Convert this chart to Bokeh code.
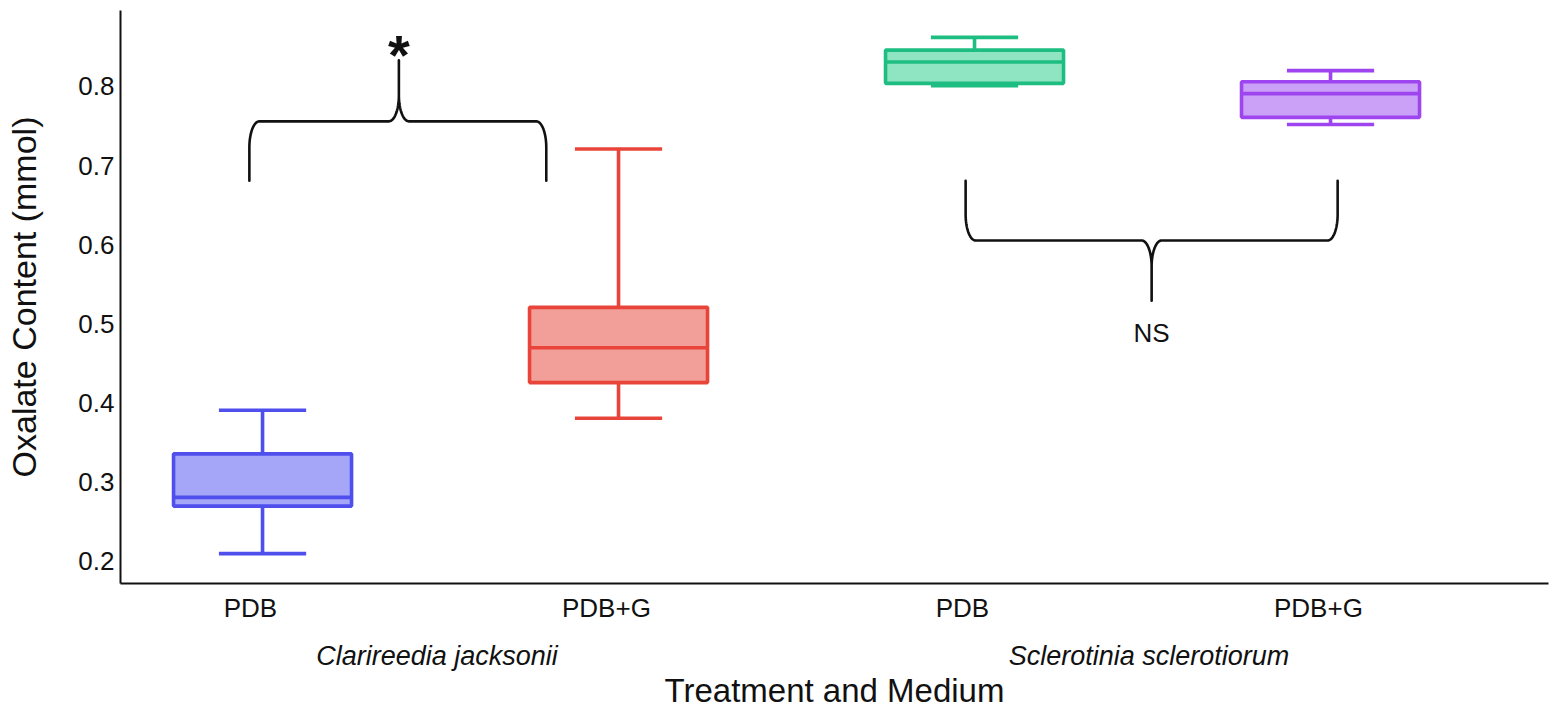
import numpy as np
from bokeh.plotting import figure
from bokeh.models import ColumnDataSource, FixedTicker, LinearAxis, Range1d
from bokeh.core.properties import value
from bokeh.embed import file_html
from bokeh.resources import INLINE

# ---------------- data ----------------
species = ["Clarireedia jacksonii", "Clarireedia jacksonii",
           "Sclerotinia sclerotiorum", "Sclerotinia sclerotiorum"]
medium = ["PDB", "PDB+G", "PDB", "PDB+G"]
whisker_low = [0.210, 0.381, 0.801, 0.752]
q1 = [0.270, 0.426, 0.804, 0.761]
median = [0.281, 0.470, 0.831, 0.791]
q3 = [0.336, 0.521, 0.846, 0.806]
whisker_high = [0.391, 0.721, 0.862, 0.820]
line_colors = ["#4F4FEE", "#E8443A", "#1EBE82", "#9E45EF"]
fill_colors = ["#A6A6F9", "#F29F99", "#8FE4C2", "#CBA1F8"]
y_ticks = [0.2, 0.3, 0.4, 0.5, 0.6, 0.7, 0.8]
group_names = ["Clarireedia jacksonii", "Sclerotinia sclerotiorum"]
x_title = "Treatment and Medium"
y_title = "Oxalate Content (mmol)"

# significance annotations: (left x, right x, mid x, end y, flat y, tip y)
brace_left = (0.963, 1.797, 1.383, 0.681, 0.756, 0.833)
brace_right = (2.975, 4.020, 3.4975, 0.681, 0.6055, 0.5295)
star_pos = (1.383, 0.841)
ns_pos = (3.497, 0.489)

FONT = "Liberation Sans"
TXT = "#111111"

X0, X1 = 0.601, 4.6123
Y0, Y1 = 0.1722, 0.896
FRAME_W, FRAME_H = 1428, 573

xs = [float(i + 1) for i in range(len(medium))]
box_w = 0.5
cap_w = 0.245
label_shift = -0.034

src = ColumnDataSource(dict(
    x=xs, lo=whisker_low, q1=q1, med=median, q3=q3, hi=whisker_high,
    lc=line_colors, fc=fill_colors,
    bl=[x - box_w / 2 for x in xs], br=[x + box_w / 2 for x in xs],
    cl=[x - cap_w / 2 for x in xs], cr=[x + cap_w / 2 for x in xs],
))

p = figure(width=1551, height=714,
           x_range=Range1d(X0, X1), y_range=Range1d(Y0, Y1),
           output_backend="svg", toolbar_location=None,
           min_border_left=120, min_border_right=3,
           min_border_top=10, min_border_bottom=131)
p.outline_line_color = None
p.grid.visible = False
p.background_fill_color = "white"
p.border_fill_color = "white"

LW = 3.6
p.segment(x0="x", y0="q3", x1="x", y1="hi", line_color="lc", line_width=LW, source=src)
p.segment(x0="x", y0="lo", x1="x", y1="q1", line_color="lc", line_width=LW, source=src)
p.segment(x0="cl", y0="hi", x1="cr", y1="hi", line_color="lc", line_width=LW, source=src)
p.segment(x0="cl", y0="lo", x1="cr", y1="lo", line_color="lc", line_width=LW, source=src)
p.vbar(x="x", width=box_w, bottom="q1", top="q3", fill_color="fc",
       line_color="lc", line_width=LW, source=src)
p.segment(x0="bl", y0="med", x1="br", y1="med", line_color="lc", line_width=LW, source=src)

# braces
px_x = FRAME_W / (X1 - X0)
px_y = FRAME_H / (Y1 - Y0)
rx = 10 / px_x
ry = 26 / px_y


def brace(x0, x1, xm, y_end, y_flat, y_tip, n=24):
    s = 1 if y_tip > y_flat else -1
    t = np.linspace(0, np.pi / 2, n)
    bx, by = [x0], [y_end]
    bx += list(x0 + rx - rx * np.cos(t)); by += list(y_flat - s * ry + s * ry * np.sin(t))
    u = t[::-1]
    bx += list(xm - rx + rx * np.cos(u)); by += list(y_flat + s * ry - s * ry * np.sin(u))
    bx += [xm, xm]; by += [y_tip, y_flat + s * ry]
    bx += list(xm + rx - rx * np.cos(t)); by += list(y_flat + s * ry - s * ry * np.sin(t))
    bx += list(x1 - rx + rx * np.sin(t)); by += list(y_flat - s * ry + s * ry * np.cos(t))
    bx += [x1]; by += [y_end]
    return bx, by


for b in (brace_left, brace_right):
    bx, by = brace(*b)
    p.line(bx, by, line_color=TXT, line_width=2.6, line_join="round", line_cap="round")

p.text(x=[star_pos[0]], y=[star_pos[1]], text=["*"], text_font=value(FONT),
       text_font_size="56px", text_font_style="bold", text_align="center",
       text_baseline="alphabetic", text_color=TXT)
p.text(x=[ns_pos[0]], y=[ns_pos[1]], text=["NS"], text_font=value(FONT),
       text_font_size="26px", text_align="center", text_baseline="alphabetic",
       text_color=TXT)

# y axis
ya = p.yaxis[0]
ya.ticker = FixedTicker(ticks=y_ticks)
ya.major_label_overrides = {v: f"{v:.1f}" for v in y_ticks}
ya.axis_label = y_title
ya.axis_label_text_font = FONT
ya.axis_label_text_font_size = "34px"
ya.axis_label_text_font_style = "normal"
ya.axis_label_text_color = TXT
ya.axis_label_standoff = 32
ya.major_label_text_font = FONT
ya.major_label_text_font_size = "26px"
ya.major_label_text_color = TXT
ya.major_label_standoff = 6
ya.axis_line_width = 2
ya.axis_line_color = TXT
ya.major_tick_out = 0
ya.major_tick_in = 0
ya.minor_tick_out = 0
ya.minor_tick_in = 0

# x axis (media)
xa = p.xaxis[0]
tick_pos = [x + label_shift for x in xs]
xa.ticker = FixedTicker(ticks=tick_pos)
xa.major_label_overrides = {t: m for t, m in zip(tick_pos, medium)}
xa.major_label_text_font = FONT
xa.major_label_text_font_size = "26px"
xa.major_label_text_color = TXT
xa.major_label_standoff = 9
xa.axis_line_width = 2
xa.axis_line_color = TXT
xa.major_tick_out = 0
xa.major_tick_in = 0
xa.minor_tick_out = 0
xa.minor_tick_in = 0

# second x axis (species groups + axis title)
group_pos = []
for g in group_names:
    gx = [x for x, s in zip(xs, species) if s == g]
    group_pos.append(sum(gx) / len(gx) - 0.01)
xa2 = LinearAxis(ticker=FixedTicker(ticks=group_pos),
                 major_label_overrides={t: g for t, g in zip(group_pos, group_names)})
xa2.axis_line_color = None
xa2.major_tick_line_color = None
xa2.minor_tick_line_color = None
xa2.major_tick_out = 0
xa2.minor_tick_out = 0
xa2.major_label_text_font = FONT
xa2.major_label_text_font_size = "27px"
xa2.major_label_text_font_style = "italic"
xa2.major_label_text_color = TXT
xa2.major_label_standoff = 15
xa2.axis_label = x_title
xa2.axis_label_text_font = FONT
xa2.axis_label_text_font_size = "33px"
xa2.axis_label_text_font_style = "normal"
xa2.axis_label_text_color = TXT
xa2.axis_label_standoff = -2
p.add_layout(xa2, "below")

open("out.html", "w").write(file_html(p, INLINE))
